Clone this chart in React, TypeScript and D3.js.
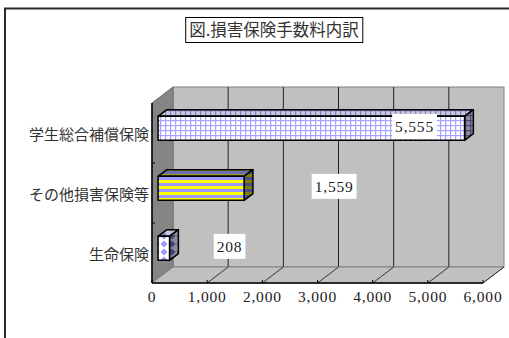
import React, { useEffect, useRef } from 'react';
import * as d3 from 'd3';

// data
const categories = ['学生総合補償保険', 'その他損害保険等', '生命保険'];
const values = [5555, 1559, 208];
const xTicks = [0, 1000, 2000, 3000, 4000, 5000, 6000];
const title = '図.損害保険手数料内訳';

// layout only: where Excel put the value labels, relative to the bar end
const labelShift = [-50, 90, 60];

const App = () => {
    const ref = useRef<SVGSVGElement>(null);

    useEffect(() => {
        const svg = d3.select(ref.current);
        svg.selectAll('*').remove();

        const left = 152, right = 483, top = 103, bottom = 283;
        const depthX = 21, depthY = -16;
        const f0 = 0.29, f1 = 0.71; // bar position inside the depth

        const x = d3.scaleLinear().domain([0, 6000]).range([left, right]);
        const y = d3.scaleBand<string>().domain(categories).range([top, bottom])
            .paddingInner(0.6).paddingOuter(0.3);

        const serif = '"Liberation Serif", "DejaVu Serif", serif';
        const gothic = '"Noto Sans CJK JP", "Noto Sans", sans-serif';

        // patterns
        const defs = svg.append('defs');
        const grid = (id: string, bg: string, cell: string) => {
            const p = defs.append('pattern').attr('id', id).attr('patternUnits', 'userSpaceOnUse')
                .attr('width', 5).attr('height', 5);
            p.append('rect').attr('width', 5).attr('height', 5).attr('fill', bg);
            p.append('rect').attr('x', 1.2).attr('y', 1.2).attr('width', 3.8).attr('height', 3.8).attr('fill', cell);
        };
        grid('gridFront', '#a4a4ff', '#ffffff');
        grid('gridTop', '#8080bc', '#c8c8dc');
        grid('gridSide', '#48486e', '#8c8ca4');

        const stripes = (id: string, a: string, b: string) => {
            const p = defs.append('pattern').attr('id', id).attr('patternUnits', 'userSpaceOnUse')
                .attr('width', 6).attr('height', 6);
            p.append('rect').attr('width', 6).attr('height', 3).attr('fill', a);
            p.append('rect').attr('y', 3).attr('width', 6).attr('height', 3).attr('fill', b);
        };
        stripes('stripeFront', '#ffff00', '#9999ff');
        stripes('stripeTop', '#9a9a30', '#6c6cb0');
        stripes('stripeSide', '#808000', '#4c4c88');

        const diamonds = (id: string, bg: string, fg: string) => {
            const p = defs.append('pattern').attr('id', id).attr('patternUnits', 'userSpaceOnUse')
                .attr('width', 8).attr('height', 8);
            p.append('rect').attr('width', 8).attr('height', 8).attr('fill', bg);
            p.append('polygon').attr('points', '4,0.5 7.5,4 4,7.5 0.5,4').attr('fill', fg);
        };
        diamonds('diaFront', '#ffffff', '#9999ff');
        diamonds('diaTop', '#c8c8d8', '#7c7cb8');
        diamonds('diaSide', '#8a8aa0', '#44446c');

        const fills = [
            ['gridFront', 'gridTop', 'gridSide'],
            ['stripeFront', 'stripeTop', 'stripeSide'],
            ['diaFront', 'diaTop', 'diaSide'],
        ];

        // outer chart border
        svg.append('rect').attr('x', 5).attr('y', 8.5).attr('width', 540).attr('height', 360)
            .attr('fill', '#fff').attr('stroke', '#2a2a2a').attr('stroke-width', 2);

        // back wall
        svg.append('rect').attr('x', left + depthX).attr('y', top + depthY)
            .attr('width', right - left).attr('height', bottom - top)
            .attr('fill', '#c0c0c0').attr('stroke', '#808080');
        svg.append('g').selectAll('line').data(xTicks.slice(1, -1)).join('line')
            .attr('x1', d => x(d) + depthX).attr('x2', d => x(d) + depthX)
            .attr('y1', top + depthY).attr('y2', bottom + depthY)
            .attr('stroke', '#222').attr('stroke-width', 1);

        // left wall
        svg.append('polygon')
            .attr('points', [[left, top], [left + depthX, top + depthY], [left + depthX, bottom + depthY], [left, bottom]].join(' '))
            .attr('fill', '#858585').attr('stroke', '#6a6a6a');

        // floor
        svg.append('polygon')
            .attr('points', [[left, bottom], [right, bottom], [right + depthX, bottom + depthY], [left + depthX, bottom + depthY]].join(' '))
            .attr('fill', '#c0c0c0').attr('stroke', '#808080');
        svg.append('g').selectAll('line').data(xTicks.slice(1)).join('line')
            .attr('x1', d => x(d)).attr('x2', d => x(d) + depthX)
            .attr('y1', bottom).attr('y2', bottom + depthY)
            .attr('stroke', '#111').attr('stroke-width', 0.8);

        // axes lines
        svg.append('line').attr('x1', left).attr('x2', left).attr('y1', top).attr('y2', bottom)
            .attr('stroke', '#000').attr('stroke-width', 1.5);
        svg.append('line').attr('x1', left).attr('x2', right).attr('y1', bottom).attr('y2', bottom)
            .attr('stroke', '#000').attr('stroke-width', 1.5);
        svg.append('g').selectAll('line').data(xTicks).join('line')
            .attr('x1', d => x(d)).attr('x2', d => x(d))
            .attr('y1', bottom).attr('y2', bottom - 3)
            .attr('stroke', '#000');
        svg.append('g').selectAll('line').data(categories.slice(1)).join('line')
            .attr('x1', left).attr('x2', left + 3)
            .attr('y1', d => y(d)! - y.step() * 0.3).attr('y2', d => y(d)! - y.step() * 0.3)
            .attr('stroke', '#000');

        // bars
        const h = y.bandwidth();
        const ox0 = depthX * f0, oy0 = depthY * f0, ox1 = depthX * f1, oy1 = depthY * f1;
        const bars = svg.append('g');
        categories.forEach((c, i) => {
            const y0 = y(c)!;
            const xs = x(0), xe = x(values[i]);
            const g = bars.append('g').attr('stroke', '#000').attr('stroke-width', 1.5)
                .attr('stroke-linejoin', 'round');
            g.append('polygon')
                .attr('points', [[xs + ox0, y0 + oy0], [xe + ox0, y0 + oy0], [xe + ox1, y0 + oy1], [xs + ox1, y0 + oy1]].join(' '))
                .attr('fill', `url(#${fills[i][1]})`);
            g.append('polygon')
                .attr('points', [[xe + ox0, y0 + oy0], [xe + ox1, y0 + oy1], [xe + ox1, y0 + h + oy1], [xe + ox0, y0 + h + oy0]].join(' '))
                .attr('fill', `url(#${fills[i][2]})`);
            g.append('rect').attr('x', xs + ox0).attr('y', y0 + oy0)
                .attr('width', xe - xs).attr('height', h)
                .attr('fill', `url(#${fills[i][0]})`);
        });

        // category labels
        svg.append('g').selectAll('text').data(categories).join('text')
            .attr('x', left - 3).attr('y', d => y(d)! + h / 2)
            .attr('text-anchor', 'end').attr('dominant-baseline', 'central')
            .attr('font-family', gothic).attr('font-size', 15).attr('fill', '#333')
            .text(d => d);

        // x tick labels
        svg.append('g').selectAll('text').data(xTicks).join('text')
            .attr('x', d => x(d)).attr('y', 301.5)
            .attr('text-anchor', 'middle')
            .attr('font-family', serif).attr('font-size', 15.5).attr('letter-spacing', 0.8)
            .attr('fill', '#222')
            .text(d => d3.format(',')(d));

        // value labels
        categories.forEach((c, i) => {
            const cx = x(values[i]) + ox0 + labelShift[i];
            const cy = y(c)! + oy0 + h / 2 - 2;
            const g = svg.append('g');
            const box = g.append('rect').attr('fill', '#fff');
            const t = g.append('text').attr('x', cx).attr('y', cy + 5.5)
                .attr('text-anchor', 'middle')
                .attr('font-family', serif).attr('font-size', 15.5).attr('letter-spacing', 0.8)
                .attr('fill', '#222')
                .text(d3.format(',')(values[i]));
            const bb = (t.node() as SVGTextElement).getBBox();
            box.attr('x', cx - bb.width / 2 - 3).attr('y', cy - 12.5)
                .attr('width', bb.width + 6).attr('height', 25);
        });

        // title
        const tg = svg.append('g');
        const tb = tg.append('rect').attr('fill', '#fff').attr('stroke', '#000').attr('stroke-width', 1);
        const tt = tg.append('text').attr('x', 274).attr('y', 36)
            .attr('text-anchor', 'middle')
            .attr('font-family', gothic).attr('font-size', 16.5).attr('fill', '#333')
            .text(title);
        const tbb = (tt.node() as SVGTextElement).getBBox();
        tb.attr('x', tbb.x - 3.5).attr('y', 17.5).attr('width', tbb.width + 7).attr('height', 25);
    }, []);

    return (
        <svg ref={ref} width={509} height={338}
            style={{ position: 'absolute', left: 0, top: 0, background: '#fff' }} />
    );
};

export default App;
